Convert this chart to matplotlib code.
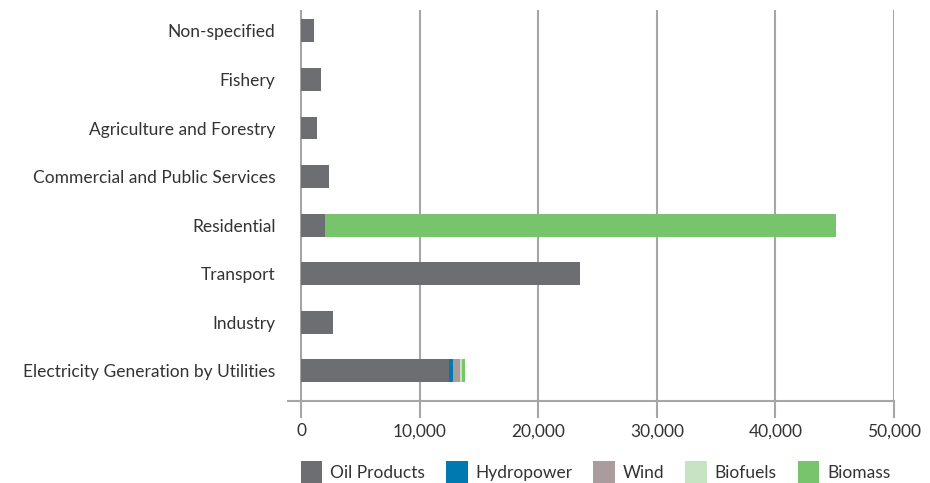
import matplotlib
matplotlib.use("Agg")
import matplotlib.pyplot as plt
from matplotlib.patches import Patch
import numpy as np

plt.rcParams['font.family'] = ['Lato', 'DejaVu Sans']

sectors = ["Electricity Generation by Utilities", "Industry", "Transport", "Residential",
           "Commercial and Public Services", "Agriculture and Forestry", "Fishery", "Non-specified"]
oil = [12500, 2700, 23550, 2050, 2350, 1350, 1700, 1100]
hydro = [340, 0, 0, 0, 0, 0, 0, 0]
wind = [590, 0, 0, 0, 0, 0, 0, 0]
biofuels = [170, 0, 0, 0, 0, 0, 0, 0]
biomass = [250, 0, 0, 43050, 0, 0, 0, 0]

series = [("Oil Products", oil, "#6d6e71"),
          ("Hydropower", hydro, "#0079b1"),
          ("Wind", wind, "#aa9b9d"),
          ("Biofuels", biofuels, "#c6e4c1"),
          ("Biomass", biomass, "#77c46c")]

fig = plt.figure(figsize=(9.3, 4.83), dpi=100)
ax = fig.add_axes([288/930, 1-401/483, (894-288)/930, (401-10)/483])

y = np.arange(len(sectors))
left = np.zeros(len(sectors))
for name, vals, col in series:
    ax.barh(y, vals, left=left, height=0.47, color=col, zorder=3)
    left += np.array(vals)

ax.set_xlim(-1100, 50000)
ax.set_ylim(-0.62, 7.43)
ax.set_yticks(y)
ax.set_yticklabels(sectors)
ax.set_xticks(range(0, 50001, 10000))
ax.set_xticklabels([f"{v:,}" for v in range(0, 50001, 10000)])

for v in range(0, 50001, 10000):
    ax.axvline(v, color="#a6a6a6", lw=1.5, zorder=1)

for s in ["top", "right", "left"]:
    ax.spines[s].set_visible(False)
ax.spines["bottom"].set_color("#a6a6a6")
ax.spines["bottom"].set_linewidth(1.5)
ax.tick_params(axis="y", length=0, pad=9, labelsize=12.5, labelcolor="#333333")
ax.tick_params(axis="x", length=12, width=1.5, color="#a6a6a6", pad=4, labelsize=12.5, labelcolor="#333333")

handles = [Patch(facecolor=c, label=n) for n, _, c in series]
fig.legend(handles=handles, loc="center left", bbox_to_anchor=(285/930, 1-472/483), ncol=5,
           frameon=False, fontsize=12.5, handlelength=1.25, handleheight=1.6,
           handletextpad=0.45, columnspacing=1.2, labelcolor="#333333")

fig.savefig("out.png", dpi=100)
